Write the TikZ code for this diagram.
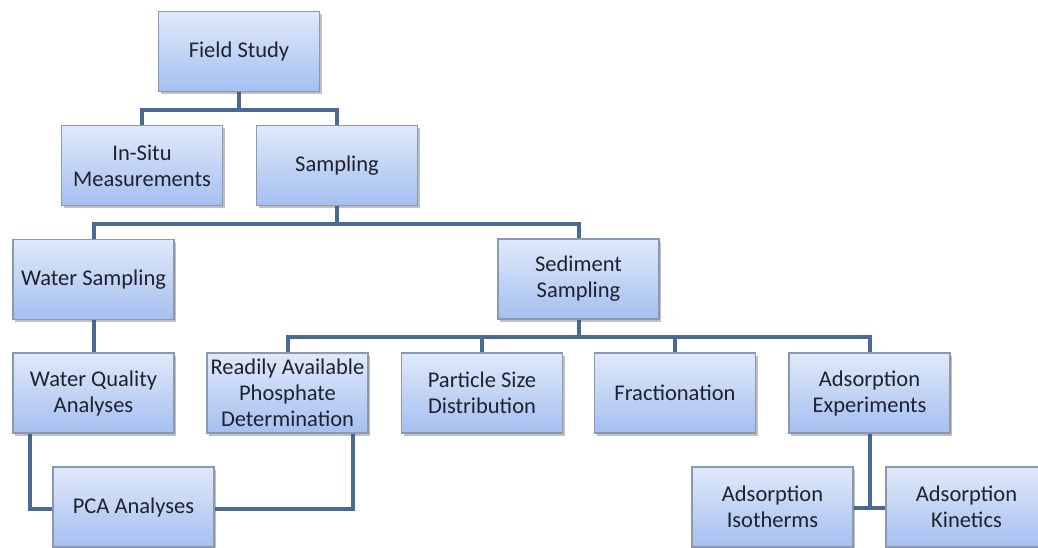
\documentclass[tikz,border=0pt]{standalone}
\usepackage{fontspec}
\setmainfont{Carlito}
\usetikzlibrary{shadows,backgrounds,calc}
\definecolor{boxtop}{RGB}{224,233,249}
\definecolor{boxbot}{RGB}{165,191,240}
\definecolor{boxline}{RGB}{140,152,175}
\definecolor{conn}{RGB}{74,106,148}
\definecolor{txt}{RGB}{30,34,48}
\tikzset{
  box/.style={rectangle, draw=boxline, line width=1.2pt,
    top color=boxtop, bottom color=boxbot,
    minimum width=161pt, minimum height=80pt, inner sep=0pt,
    align=center, text=txt, font=\fontsize{22.5}{26}\selectfont,
    drop shadow={shadow xshift=2pt, shadow yshift=-2.5pt, opacity=0.35, fill=black!70}},
  link/.style={draw=conn, line width=4pt}
}
\begin{document}
\begin{tikzpicture}[x=1pt,y=-1pt]
\clip (0,0) rectangle (1038,547);
\node[box] (field) at (239,51.5) {Field Study};
\node[box] (insitu) at (142,165.5) {In-Situ\\Measurements};
\node[box] (samp) at (337,165.5) {Sampling};
\node[box] (water) at (93.5,279.5) {Water Sampling};
\node[box] (sed) at (578.5,279) {Sediment\\Sampling};
\node[box] (wq) at (93.5,393) {Water Quality\\Analyses};
\node[box] (rap) at (287.5,393) {Readily Available\\Phosphate\\Determination};
\node[box] (psd) at (482,393) {Particle Size\\Distribution};
\node[box] (frac) at (675,393) {Fractionation};
\node[box] (adexp) at (869.5,393) {Adsorption\\Experiments};
\node[box] (pca) at (133.5,507) {PCA Analyses};
\node[box] (iso) at (772.5,507) {Adsorption\\Isotherms};
\node[box] (kin) at (966.5,507) {Adsorption\\Kinetics};
\coordinate (j1) at (239,110);
\coordinate (j2) at (337,224);
\coordinate (j3) at (578.5,337);
\coordinate (j4) at (869.5,508);
\begin{scope}[on background layer]
\fill[white] (0,0) rectangle (1038,547);
\draw[link] (field.south) -- (j1);
\draw[link] (insitu.north) |- (j1) -| (samp.north);
\draw[link] (samp.south) -- (j2);
\draw[link] (water.north) |- (j2) -| (sed.north);
\draw[link] (water.south) -- (wq.north);
\draw[link] (sed.south) -- (j3);
\draw[link] (rap.north) |- (j3) -| (adexp.north);
\draw[link] (psd.north) -- (psd.north |- j3);
\draw[link] (frac.north) -- (frac.north |- j3);
\draw[link] (adexp.south) -- (j4);
\draw[link] (iso.east |- j4) -- (kin.west |- j4);
\draw[link] ($(wq.south west)+(18,0)$) |- (pca.west |- 0,509);
\draw[link] ($(rap.south east)+(-16,0)$) |- (pca.east |- 0,509);
\end{scope}
\end{tikzpicture}
\end{document}
